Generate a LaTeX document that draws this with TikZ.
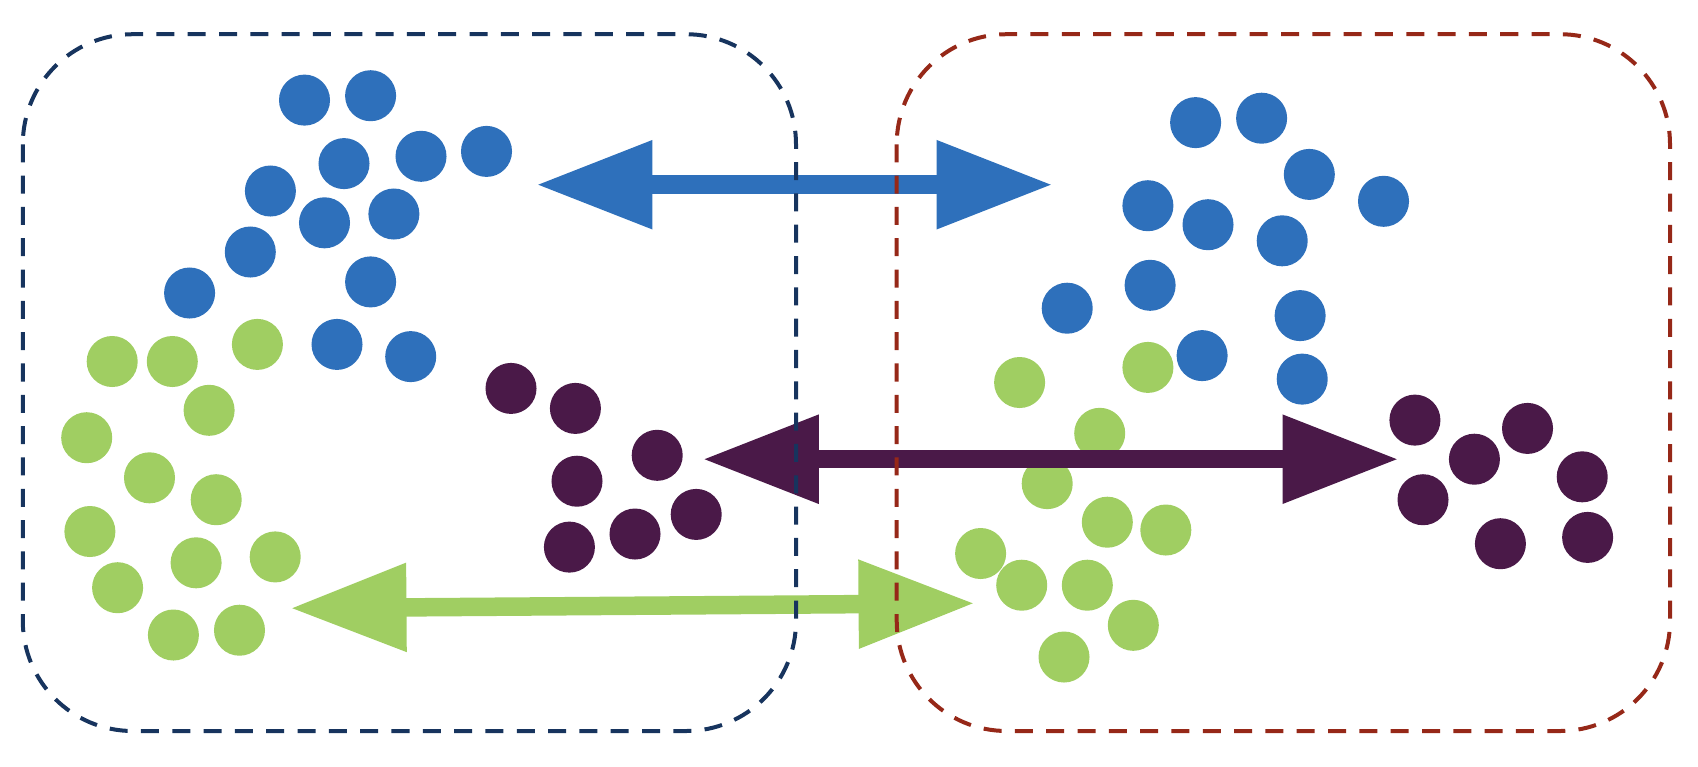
\documentclass[tikz,border=0pt]{standalone}
\usetikzlibrary{arrows.meta}
\definecolor{dotBlue}{RGB}{46,112,187}
\definecolor{dotGreen}{RGB}{160,206,98}
\definecolor{dotPurple}{RGB}{74,25,72}
\definecolor{boxNavy}{RGB}{23,52,94}
\definecolor{boxRed}{RGB}{150,40,24}
\begin{document}
\begin{tikzpicture}
            [x=0.01cm, y=-0.01cm,
        dot/.style={circle, inner sep=0pt, minimum size=0.51cm},
        blueDot/.style={dot, fill=dotBlue},
        greenDot/.style={dot, fill=dotGreen},
        purpleDot/.style={dot, fill=dotPurple},
        twoWay/.style={line width=0.185cm, {Triangle[length=1.16cm, width=0.84cm]}-{Triangle[length=1.16cm, width=0.84cm]}},
        dashBox/.style={line width=0.04cm, dash pattern=on 0.18cm off 0.133cm, rounded corners=1.1cm}]
            \useasboundingbox (0,0) rectangle (1698,766);

            % left group
            \node[blueDot] (bl1) at (304.5,100.1) {};
            \node[blueDot] (bl2) at (370.6,95.7) {};
            \node[blueDot] (bl3) at (344,163.6) {};
            \node[blueDot] (bl4) at (421,156.3) {};
            \node[blueDot] (bl5) at (486.5,151.4) {};
            \node[blueDot] (bl6) at (270.4,191) {};
            \node[blueDot] (bl7) at (324.5,222.8) {};
            \node[blueDot] (bl8) at (393.9,214) {};
            \node[blueDot] (bl9) at (250.3,252) {};
            \node[blueDot] (bl10) at (189.6,293) {};
            \node[blueDot] (bl11) at (370.6,281.9) {};
            \node[blueDot] (bl12) at (337,344.4) {};
            \node[blueDot] (bl13) at (410.7,356.6) {};

            \node[greenDot] (gl1) at (112.2,361.5) {};
            \node[greenDot] (gl2) at (172.3,361.5) {};
            \node[greenDot] (gl3) at (257.4,344.4) {};
            \node[greenDot] (gl4) at (209.1,410.3) {};
            \node[greenDot] (gl5) at (86.7,437.7) {};
            \node[greenDot] (gl6) at (149.5,477.8) {};
            \node[greenDot] (gl7) at (216.2,499.7) {};
            \node[greenDot] (gl8) at (89.9,531.5) {};
            \node[greenDot] (gl9) at (196.1,562.8) {};
            \node[greenDot] (gl10) at (275.2,556.9) {};
            \node[greenDot] (gl11) at (117.6,587.7) {};
            \node[greenDot] (gl12) at (173.4,635) {};
            \node[greenDot] (gl13) at (239.5,630.2) {};

            \node[purpleDot] (pl1) at (511,388.4) {};
            \node[purpleDot] (pl2) at (575.4,408.4) {};
            \node[purpleDot] (pl3) at (657.2,455.3) {};
            \node[purpleDot] (pl4) at (577,481.2) {};
            \node[purpleDot] (pl5) at (696.2,514.4) {};
            \node[purpleDot] (pl6) at (635,534) {};
            \node[purpleDot] (pl7) at (569.4,547.1) {};

            % right group
            \node[blueDot] (br1) at (1195.6,122.6) {};
            \node[blueDot] (br2) at (1261.6,118.2) {};
            \node[blueDot] (br3) at (1309.3,174.4) {};
            \node[blueDot] (br4) at (1383.5,201.3) {};
            \node[blueDot] (br5) at (1147.9,205.7) {};
            \node[blueDot] (br6) at (1208,224.7) {};
            \node[blueDot] (br7) at (1282.2,240.8) {};
            \node[blueDot] (br8) at (1150.1,285.3) {};
            \node[blueDot] (br9) at (1067.2,308.2) {};
            \node[blueDot] (br10) at (1300.1,315.6) {};
            \node[blueDot] (br11) at (1202.1,355.6) {};
            \node[blueDot] (br12) at (1302.2,379.1) {};

            \node[greenDot] (gr1) at (1019.6,382.5) {};
            \node[greenDot] (gr2) at (1147.9,367.4) {};
            \node[greenDot] (gr3) at (1099.7,433.3) {};
            \node[greenDot] (gr4) at (1047.2,483.6) {};
            \node[greenDot] (gr5) at (1107.3,522.2) {};
            \node[greenDot] (gr6) at (1165.8,530) {};
            \node[greenDot] (gr7) at (980.6,553.5) {};
            \node[greenDot] (gr8) at (1021.7,585.2) {};
            \node[greenDot] (gr9) at (1087.3,585.2) {};
            \node[greenDot] (gr10) at (1133.3,625.3) {};
            \node[greenDot] (gr11) at (1064,657) {};

            \node[purpleDot] (pr1) at (1414.9,420.1) {};
            \node[purpleDot] (pr2) at (1527.5,428.4) {};
            \node[purpleDot] (pr3) at (1474.4,459.2) {};
            \node[purpleDot] (pr4) at (1423,499.7) {};
            \node[purpleDot] (pr5) at (1582.2,476.8) {};
            \node[purpleDot] (pr6) at (1500.4,543.7) {};
            \node[purpleDot] (pr7) at (1587.6,537.4) {};

            % arrow ends
            \coordinate (blueL) at (536.4,184.7);
            \coordinate (blueR) at (1052.6,184.7);
            \coordinate (purpleL) at (702.7,459.2);
            \coordinate (purpleR) at (1398.6,459.2);
            \coordinate (greenL) at (290.4,608.2);
            \coordinate (greenR) at (974.6,603.3);

            \draw[twoWay, dotBlue] (blueL) -- (blueR);
            \draw[twoWay, dotPurple] (purpleL) -- (purpleR);
            \draw[twoWay, dotGreen] (greenL) -- (greenR);

            % the two domains
            \draw[dashBox, boxNavy] (22.8,34.2) rectangle (796,731);
            \draw[dashBox, boxRed] (896.7,34.2) rectangle (1670,731);
        \end{tikzpicture}
\end{document}
